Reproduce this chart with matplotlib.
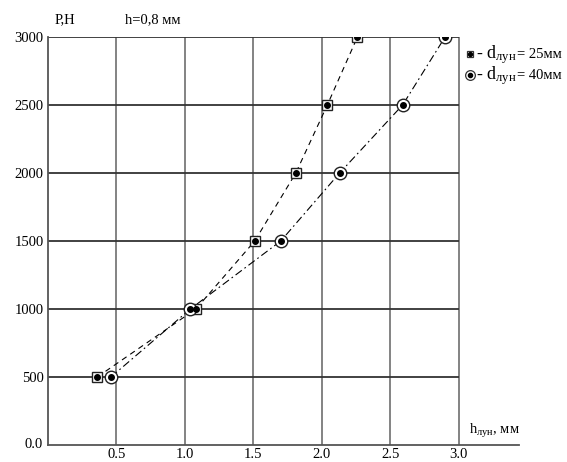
import matplotlib
matplotlib.use("Agg")
import matplotlib.pyplot as plt
from matplotlib.lines import Line2D

plt.rcParams['font.family'] = ['Liberation Serif', 'DejaVu Serif']
plt.rcParams['mathtext.fontset'] = 'custom'
plt.rcParams['mathtext.rm'] = 'Liberation Serif'
plt.rcParams['mathtext.it'] = 'Liberation Serif'

# Data
p_values = [500, 1000, 1500, 2000, 2500, 3000]
h_d25 = [0.36, 1.08, 1.51, 1.81, 2.04, 2.26]
h_d40 = [0.46, 1.04, 1.70, 2.13, 2.59, 2.90]
x_ticks = [0.5, 1.0, 1.5, 2.0, 2.5, 3.0]
x_ticklabels = ["0.5", "1.0", "1.5", "2.0", "2.5", "3.0"]
y_ticks = [500, 1000, 1500, 2000, 2500, 3000]
y_ticklabels = ["500", "1000", "1500", "2000", "2500", "3000"]
legend_main = [r"- d$_{\mathrm{лун}}$", r"- d$_{\mathrm{лун}}$"]
legend_tail = ["= 25мм", "= 40мм"]

W, H = 567, 462
fig = plt.figure(figsize=(W/100, H/100), dpi=100)
ax = fig.add_axes([48/W, 17/H, 471/W, 408/H])
ax.set_xlim(0, 3.44)
ax.set_ylim(0, 3000)

# grid (only up to x = 3.0)
ax.vlines(x_ticks, 0, 3000, colors='#7a7a7a', lw=1.3, zorder=1)
ax.hlines(y_ticks, 0, 3.0, colors='#333333', lw=1.3, zorder=1)

for s in ['top', 'right']:
    ax.spines[s].set_visible(False)
for s in ['left', 'bottom']:
    ax.spines[s].set_color('#555555')
    ax.spines[s].set_linewidth(1.3)

ax.plot(h_d25, p_values, color='black', lw=0.8, dashes=(5, 4), zorder=2)
ax.plot(h_d40, p_values, color='black', lw=0.8, dashes=(7, 3, 1.5, 3), zorder=2)

ax.plot(h_d25, p_values, ls='none', marker='s', ms=7.5, mfc='white',
        mec='#222222', mew=1.0, zorder=3)
ax.plot(h_d25, p_values, ls='none', marker='o', ms=4, mfc='black',
        mec='black', zorder=4)
ax.plot(h_d40, p_values, ls='none', marker='o', ms=9, mfc='white',
        mec='#222222', mew=1.0, zorder=3)
ax.plot(h_d40, p_values, ls='none', marker='o', ms=4, mfc='black',
        mec='black', zorder=4)

ax.set_xticks(x_ticks)
ax.set_xticklabels(x_ticklabels, fontsize=10.5)
ax.set_yticks(y_ticks)
ax.set_yticklabels(y_ticklabels, fontsize=10.5)
ax.tick_params(axis='x', length=0, pad=2)
ax.tick_params(axis='y', length=0, pad=3)
ax.text(-0.04, 0, "0.0", ha='right', va='center', fontsize=10.5)

fig.text(55/W, 1 - 20/H, "P,H", fontsize=10.5, va='center', ha='left')
fig.text(125/W, 1 - 20/H, "h=0,8 мм", fontsize=10.5, va='center', ha='left')
fig.text(469/W, 1 - 431/H, r"h$_{\mathrm{лун}}$, мм", fontsize=10.5,
         va='center', ha='left')

# legend (manual)
rows_y = [58, 79]          # baseline pixel rows
marker_y = [54, 75]
fig.add_artist(Line2D([470/W], [1 - marker_y[0]/H], ls='none', marker='s', ms=5,
                      mfc='white', mec='#333333', mew=0.9, transform=fig.transFigure))
fig.add_artist(Line2D([470/W], [1 - marker_y[0]/H], ls='none', marker='o', ms=2.8,
                      mfc='black', mec='black', transform=fig.transFigure))
fig.add_artist(Line2D([470/W], [1 - marker_y[1]/H], ls='none', marker='o', ms=7,
                      mfc='white', mec='#333333', mew=0.9, transform=fig.transFigure))
fig.add_artist(Line2D([470/W], [1 - marker_y[1]/H], ls='none', marker='o', ms=3,
                      mfc='black', mec='black', transform=fig.transFigure))

fig.canvas.draw()
renderer = fig.canvas.get_renderer()
for main, tail, yb in zip(legend_main, legend_tail, rows_y):
    t = fig.text(476/W, 1 - yb/H, main, fontsize=13, va='baseline', ha='left')
    bb = t.get_window_extent(renderer=renderer)
    fig.text(bb.x1/W + 0.5/W, 1 - yb/H, tail, fontsize=10.5, va='baseline', ha='left')

fig.savefig("out.png", dpi=100)
